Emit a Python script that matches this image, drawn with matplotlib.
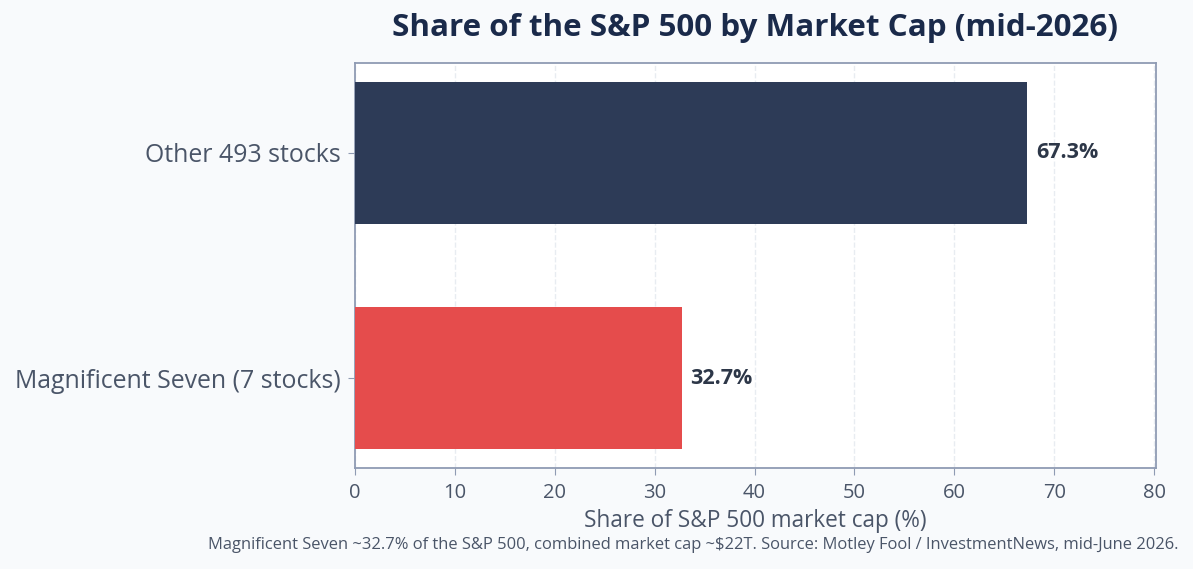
import matplotlib
matplotlib.use("Agg")
import matplotlib.pyplot as plt

categories = ["Magnificent Seven (7 stocks)", "Other 493 stocks"]
shares = [32.7, 67.3]
bar_colors = ["#e54c4c", "#2d3b57"]
xticks = [0, 10, 20, 30, 40, 50, 60, 70, 80]

plt.rcParams['font.family'] = ['Open Sans', 'DejaVu Sans']

fig = plt.figure(figsize=(11.93, 5.69), dpi=100, facecolor="#f8fafc")
ax = fig.add_axes([355/1193, 1-468/569, (1156-355)/1193, (468-63)/569])
ax.set_facecolor("white")

y = list(range(len(categories)))
ax.barh(y, shares, height=0.63, color=bar_colors, zorder=3)
for yi, v in zip(y, shares):
    ax.text(v + 0.9, yi, f"{v:.1f}%", va="center", ha="left", fontsize=15.5,
            fontweight="bold", color="#2d3748", zorder=4)

ax.set_xlim(0, 80.2)
ax.set_ylim(-0.397, 1.397)
ax.set_xticks(xticks)
ax.set_yticks(y)
ax.set_yticklabels(categories)
ax.tick_params(axis="y", labelsize=17.9, colors="#8f9bb3", labelcolor="#4a5568", length=5, pad=5)
ax.tick_params(axis="x", labelsize=14.5, colors="#8f9bb3", labelcolor="#4a5568", length=5, pad=6)
ax.grid(axis="x", linestyle="--", color="#e8ecf1", linewidth=1, zorder=0)
for s in ax.spines.values():
    s.set_color("#8f9bb3")
    s.set_linewidth(1.3)

ax.set_xlabel("Share of S&P 500 market cap (%)", fontsize=16.3, color="#4a5568", labelpad=4)
fig.text((355+1156)/2/1193, 1-28/569, "Share of the S&P 500 by Market Cap (mid-2026)",
         ha="center", va="center", fontsize=22.6, fontweight="bold", color="#1a2a4a")
fig.text(1178/1193, 1-545/569,
         "Magnificent Seven ~32.7% of the S&P 500, combined market cap ~$22T. Source: Motley Fool / InvestmentNews, mid-June 2026.",
         ha="right", va="center", fontsize=11.9, color="#4a5568")

fig.savefig("out.png", dpi=100, facecolor=fig.get_facecolor())
